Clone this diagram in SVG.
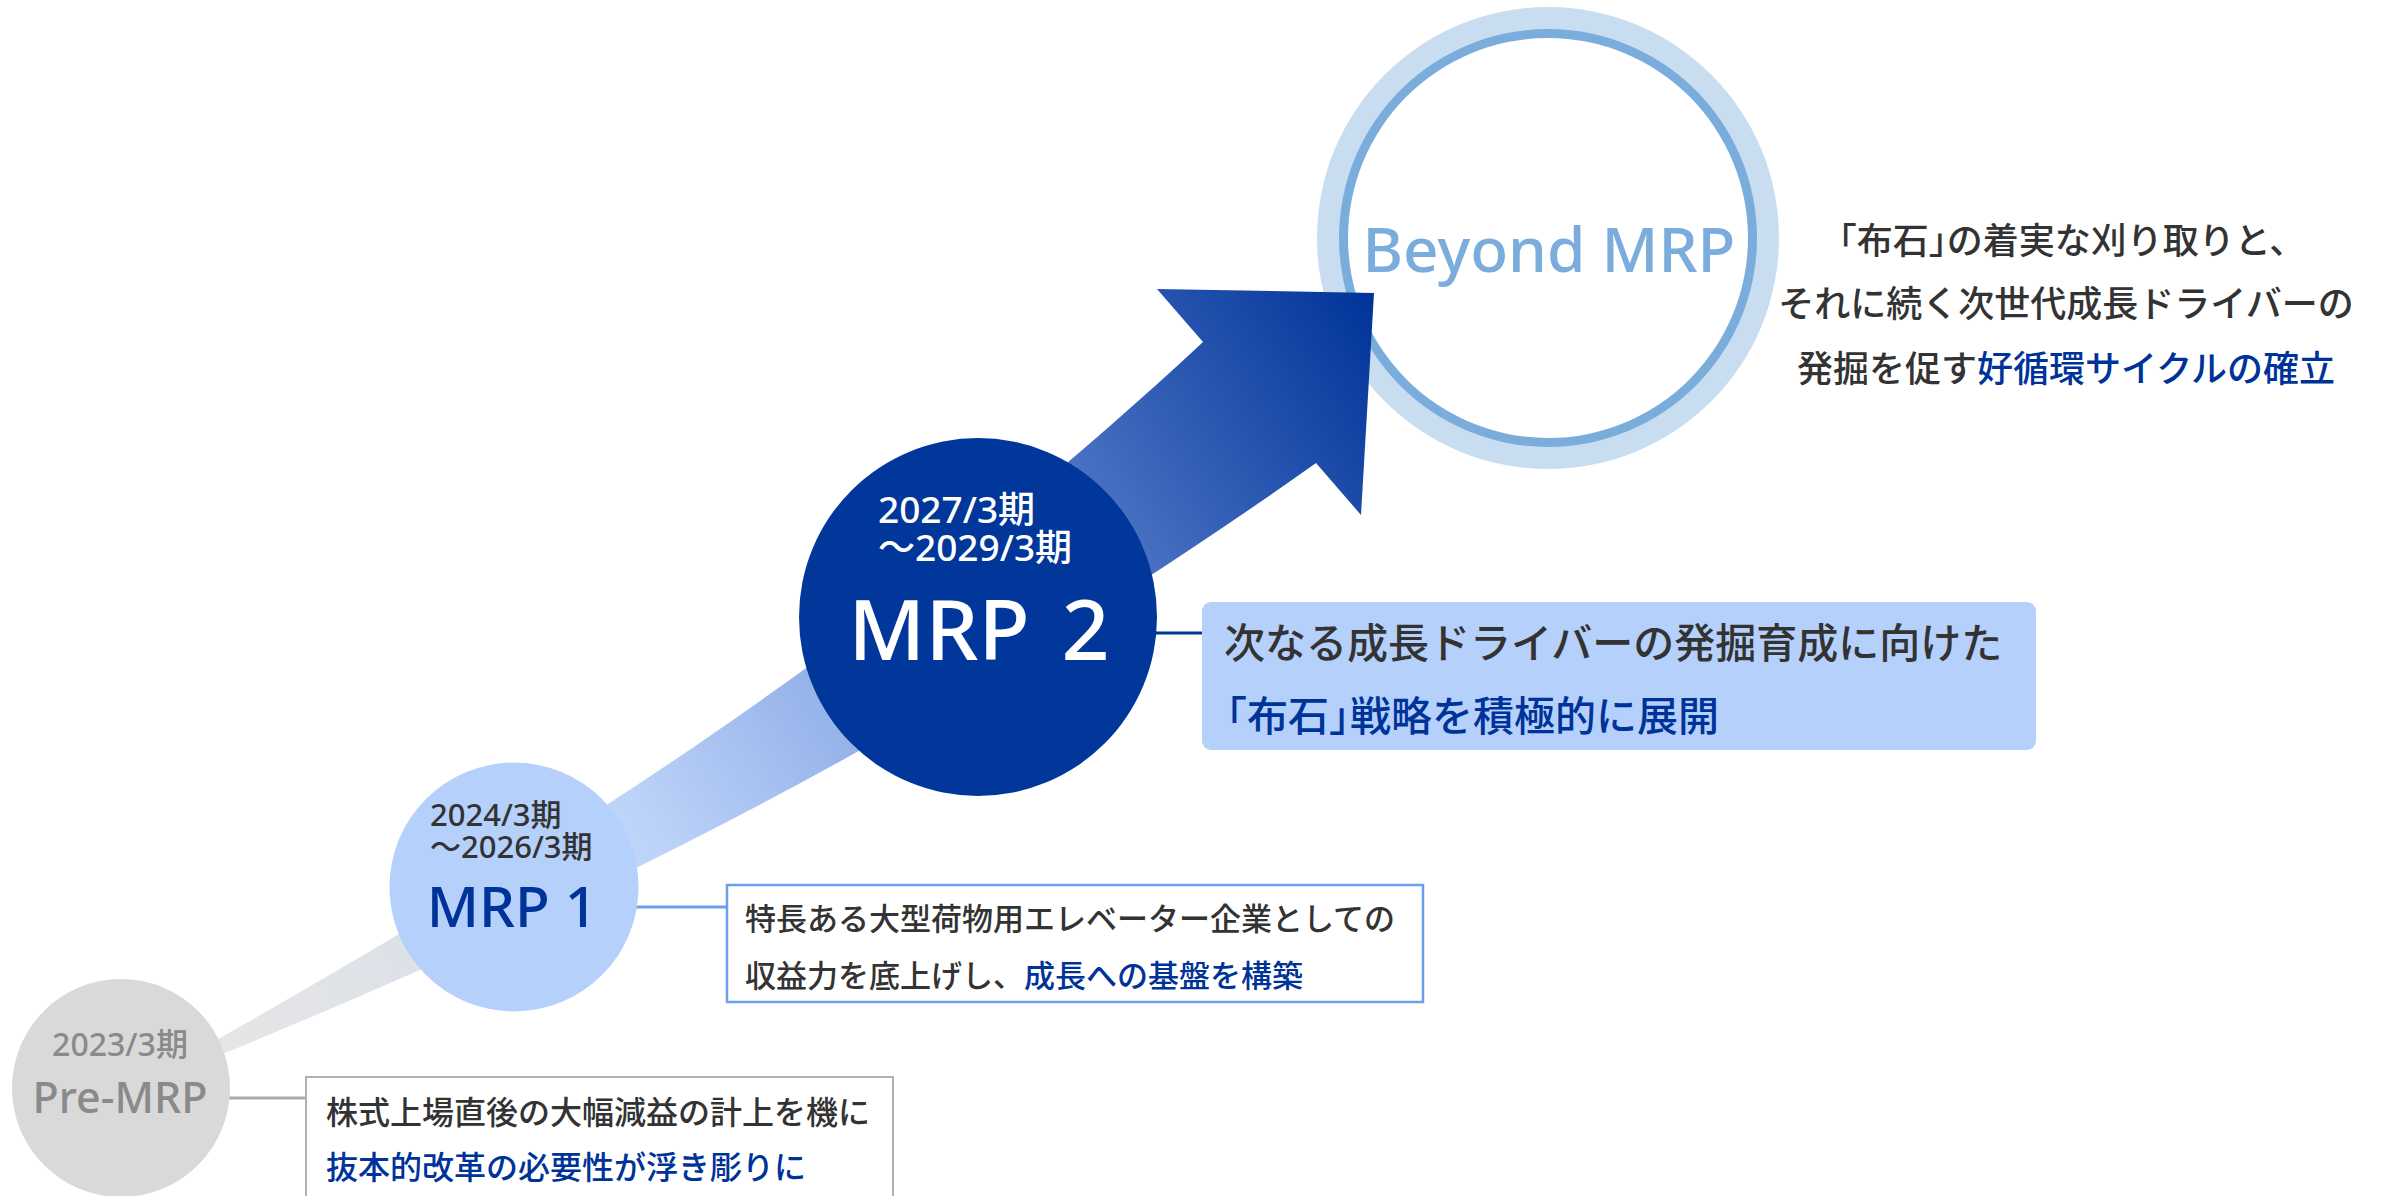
<svg xmlns="http://www.w3.org/2000/svg" width="2382" height="1196" viewBox="0 0 2382 1196">
<defs>
<linearGradient id="shaft" gradientUnits="userSpaceOnUse" x1="200" y1="1060" x2="1370" y2="290">
<stop offset="0" stop-color="#e6e6e6"/>
<stop offset="0.17" stop-color="#dde1e8"/>
<stop offset="0.3" stop-color="#c4d8fa"/>
<stop offset="0.36" stop-color="#bcd2f8"/>
<stop offset="0.51" stop-color="#96b3ea"/>
<stop offset="0.75" stop-color="#4b72c3"/>
<stop offset="1" stop-color="#003399"/>
</linearGradient>
<style>
text{font-family:"Noto Sans","Noto Sans CJK JP",sans-serif;font-weight:500;}
.jp{font-family:"Noto Sans CJK JP","Noto Sans",sans-serif;font-weight:500;}
.dark{fill:#333333;}
.blue{fill:#003399;}
.conn{fill:none;stroke-width:3;}
</style>
</defs>
<rect width="2382" height="1196" fill="#ffffff"/>

<g id="node-beyond">
<circle cx="1548" cy="238" r="231" fill="#c9ddf1"/>
<circle cx="1548" cy="238" r="209" fill="#7aaddc"/>
<circle cx="1548" cy="238" r="200" fill="#ffffff"/>
<text x="1549" y="272" font-size="62" fill="#7aaddc" text-anchor="middle">Beyond MRP</text>
</g>

<g id="growth-arrow">
<path d="M150,1078 L218,1039 C548,852 873,649 1203,342 L1157,289 L1374,293 L1361,515 L1316,463 C952,721.5 589,904 225,1053 L150,1084 Z" fill="url(#shaft)"/>
</g>

<g id="connectors">
<line class="conn" x1="225" y1="1098" x2="306" y2="1098" stroke="#aaaaaa"/>
<line class="conn" x1="630" y1="907" x2="727" y2="907" stroke="#6e9ef0"/>
<line class="conn" x1="1150" y1="633" x2="1203" y2="633" stroke="#003399"/>
</g>

<g id="node-premrp">
<circle cx="121" cy="1088" r="109" fill="#d9d9d9"/>
<text x="120" y="1056" font-size="32" fill="#8a8a8a" text-anchor="middle">2023/3期</text>
<text x="120" y="1113" font-size="43" fill="#8a8a8a" text-anchor="middle">Pre-MRP</text>
</g>

<g id="box-premrp">
<rect x="306" y="1077" width="587" height="140" fill="#ffffff" stroke="#b0b0b0" stroke-width="2"/>
<text class="jp dark" x="326" y="1124" font-size="32">株式上場直後の大幅減益の計上を機に</text>
<text class="jp blue" x="326" y="1179" font-size="32">抜本的改革の必要性が浮き彫りに</text>
</g>

<g id="node-mrp1">
<circle cx="514" cy="887" r="124.5" fill="#b5d0fb"/>
<text class="dark" x="430" y="826" font-size="31">2024/3期</text>
<text class="dark" x="430" y="858" font-size="31">～2026/3期</text>
<text class="blue" x="512" y="927" font-size="57" text-anchor="middle">MRP 1</text>
</g>

<g id="box-mrp1">
<rect x="727" y="885" width="696" height="117" fill="#ffffff" stroke="#6e9ef0" stroke-width="2.5"/>
<text class="jp dark" x="745" y="930" font-size="31">特長ある大型荷物用エレベーター企業としての</text>
<text class="jp dark" x="745" y="987" font-size="31">収益力を底上げし、<tspan class="blue">成長への基盤を構築</tspan></text>
</g>

<g id="node-mrp2">
<circle cx="978" cy="617" r="179" fill="#01379a"/>
<text x="878" y="523" font-size="37" fill="#ffffff">2027/3期</text>
<text x="878" y="561" font-size="37" fill="#ffffff">～2029/3期</text>
<text x="979" y="660" font-size="84" fill="#ffffff" text-anchor="middle" word-spacing="10">MRP 2</text>
</g>

<g id="box-mrp2">
<rect x="1202" y="602" width="834" height="148" rx="9" fill="#b5d0fb"/>
<text class="jp dark" x="1224" y="658" font-size="41">次なる成長ドライバーの発掘育成に向けた</text>
<text class="jp blue" x="1206" y="731" font-size="41">「布石」<tspan dx="-20">戦略を積極的に展開</tspan></text>
</g>

<g id="text-beyond">
<text class="jp dark" x="2063" y="254" font-size="36" text-anchor="middle">「布石」<tspan dx="-18">の着実な刈り取りと、</tspan></text>
<text class="jp dark" x="2066" y="317" font-size="36" text-anchor="middle">それに続く次世代成長ドライバーの</text>
<text class="jp dark" x="2066" y="382" font-size="36" text-anchor="middle">発掘を促す<tspan class="blue">好循環サイクルの確立</tspan></text>
</g>
</svg>
